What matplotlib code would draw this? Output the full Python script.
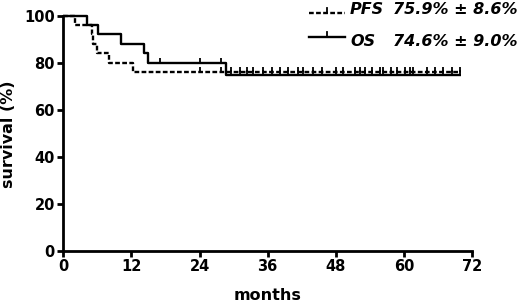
import numpy as np
import matplotlib
matplotlib.use("Agg")
import matplotlib.pyplot as plt
from matplotlib.lines import Line2D

plt.rcParams['font.family'] = ['DejaVu Sans']
plt.rcParams['font.weight'] = 'bold'

# ---- data ----
os_times = [0, 4.2, 6.2, 10.1, 14.2, 15.0, 28.6]
os_surv = [100, 96, 92, 88, 84, 80, 74.6]
pfs_times = [0, 2.0, 5.0, 5.3, 5.9, 8.1, 12.3]
pfs_surv = [100, 96, 92, 88, 84, 80, 75.9]
end_time = 70.0
late_censor = [27.8, 29.6, 31.1, 32.3, 33.5, 35.2, 36.7, 38.1, 39.6, 41.4,
               42.3, 44.0, 45.5, 48.1, 49.3, 51.4, 52.2, 53.1, 54.3, 55.8,
               56.3, 57.8, 58.7, 60.2, 61.0, 61.6, 64.0, 65.4, 66.9, 68.4, 69.8]
os_censor = [17.0, 24.0] + late_censor
pfs_censor = [24.0] + late_censor
x_ticks = [0, 12, 24, 36, 48, 60, 72]
y_ticks = [0, 20, 40, 60, 80, 100]
legend_names = ["PFS", "OS"]
legend_values = ["75.9% \u00b1 8.6%", "74.6% \u00b1 9.0%"]

fig = plt.figure(figsize=(5.2, 3.04), dpi=100)
ax = fig.add_axes([63.3/520, 1-250.7/304, (472-63.3)/520, (250.7-15.7)/304])

tick_marker = [(0, 0), (0, 1)]

def step_value(times, surv, t):
    idx = np.searchsorted(times, t, side='right') - 1
    return np.asarray(surv)[idx]

def draw(times, surv, censor, ls):
    tt = list(times) + [end_time]
    ss = list(surv) + [surv[-1]]
    ax.step(tt, ss, where='post', color='black', lw=1.7, ls=ls,
            clip_on=False, solid_capstyle='butt', dash_capstyle='butt')
    cs = [step_value(times, surv, c) for c in censor]
    ax.plot(censor, cs, ls='none', marker=tick_marker, markersize=7,
            markeredgewidth=1.3, color='black', clip_on=False)

draw(pfs_times, pfs_surv, pfs_censor, (0, (2, 1)))
draw(os_times, os_surv, os_censor, '-')

ax.set_xlim(0, 72)
ax.set_ylim(0, 100)
ax.set_xticks(x_ticks)
ax.set_yticks(y_ticks)
for s in ['top', 'right']:
    ax.spines[s].set_visible(False)
for s in ['left', 'bottom']:
    ax.spines[s].set_linewidth(2.0)
ax.tick_params(width=2.0, length=4, direction='out', labelsize=10.5, pad=2)
for lab in ax.get_xticklabels() + ax.get_yticklabels():
    lab.set_fontweight('bold')

fig.text(9/520, 1-134/304, "survival (%)", rotation=90, ha='center', va='center',
         fontsize=11.5, fontweight='bold')
fig.text(268/520, 1-288/304, "months", ha='center', va='top',
         fontsize=11.5, fontweight='bold')

# legend drawn manually
line_y = [13.3, 37.3]
base_y = [14.5, 45.5]
styles = [(0, (2, 1)), '-']
for i in range(2):
    yl = 1 - line_y[i]/304
    fig.add_artist(Line2D([309/520, 345/520], [yl, yl], color='black', lw=1.7,
                          ls=styles[i], transform=fig.transFigure))
    fig.add_artist(Line2D([327/520, 327/520], [yl, yl + 5/304], color='black', lw=1.3,
                          transform=fig.transFigure))
    yb = 1 - base_y[i]/304
    fig.text(350/520, yb, legend_names[i], fontsize=11.5, fontweight='bold',
             style='italic', va='baseline', ha='left')
    fig.text(393/520, yb, legend_values[i], fontsize=11.5, fontweight='bold',
             style='italic', va='baseline', ha='left')

fig.savefig("out.png", dpi=100)
